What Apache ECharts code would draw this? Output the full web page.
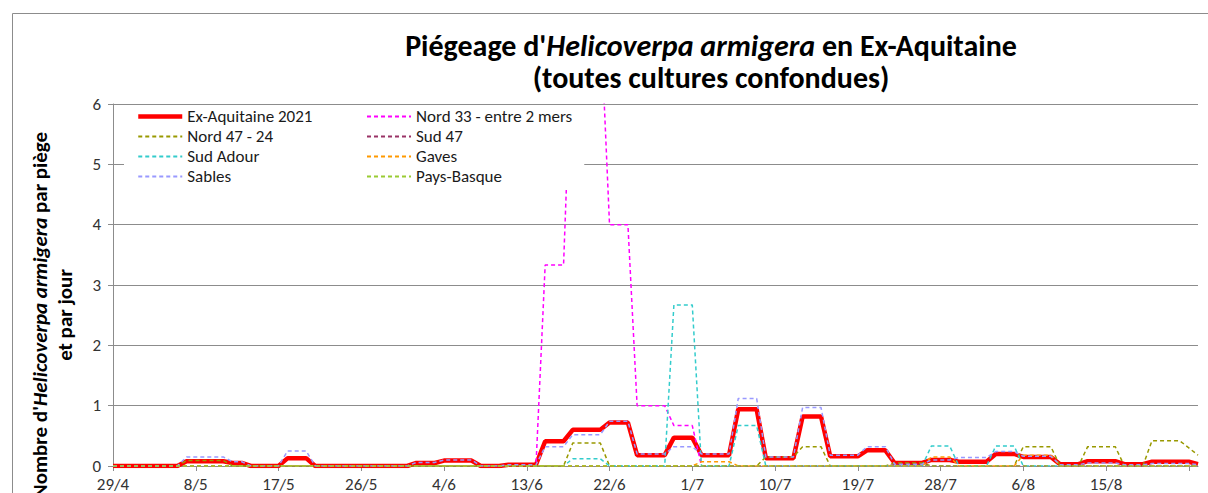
<!DOCTYPE html>
<html>
<head>
<meta charset="utf-8">
<script src="https://cdn.jsdelivr.net/npm/echarts@6/dist/echarts.min.js"></script>
<style>
  html, body { margin: 0; padding: 0; background: #fff; }
  #piegeage { width: 1208px; height: 493px; }
</style>
</head>
<body>
<div id="piegeage"></div>
<script>
// dates (one point per day, 29/4 -> 25/8)
var dates = [
    '29/4', '30/4',
    '1/5', '2/5', '3/5', '4/5', '5/5', '6/5', '7/5', '8/5', '9/5', '10/5', '11/5', '12/5', '13/5', '14/5', '15/5', '16/5',
    '17/5', '18/5', '19/5', '20/5', '21/5', '22/5', '23/5', '24/5', '25/5', '26/5', '27/5', '28/5', '29/5', '30/5', '31/5',
    '1/6', '2/6', '3/6', '4/6', '5/6', '6/6', '7/6', '8/6', '9/6', '10/6', '11/6', '12/6', '13/6', '14/6', '15/6', '16/6',
    '17/6', '18/6', '19/6', '20/6', '21/6', '22/6', '23/6', '24/6', '25/6', '26/6', '27/6', '28/6', '29/6', '30/6',
    '1/7', '2/7', '3/7', '4/7', '5/7', '6/7', '7/7', '8/7', '9/7', '10/7', '11/7', '12/7', '13/7', '14/7', '15/7', '16/7',
    '17/7', '18/7', '19/7', '20/7', '21/7', '22/7', '23/7', '24/7', '25/7', '26/7', '27/7', '28/7', '29/7', '30/7', '31/7',
    '1/8', '2/8', '3/8', '4/8', '5/8', '6/8', '7/8', '8/8', '9/8', '10/8', '11/8', '12/8', '13/8', '14/8', '15/8', '16/8',
    '17/8', '18/8', '19/8', '20/8', '21/8', '22/8', '23/8', '24/8', '25/8'
];

var exAquitaine = [
    0, 0, 0, 0, 0, 0, 0, 0,
    0.08, 0.08, 0.08, 0.08, 0.08, 0.05, 0.05, 0, 0, 0, 0,
    0.13, 0.13, 0.13, 0, 0, 0, 0, 0, 0, 0, 0, 0, 0, 0,
    0.05, 0.05, 0.05, 0.09, 0.09, 0.09, 0.09, 0, 0, 0,
    0.02, 0.02, 0.02, 0.02, 0.41, 0.41, 0.41, 0.6, 0.6, 0.6, 0.6,
    0.72, 0.72, 0.72, 0.18, 0.18, 0.18, 0.18, 0.47, 0.47, 0.47,
    0.18, 0.18, 0.18, 0.18, 0.94, 0.94, 0.94, 0.13, 0.13, 0.13, 0.13,
    0.82, 0.82, 0.82, 0.16, 0.16, 0.16, 0.16, 0.26, 0.26, 0.26,
    0.05, 0.05, 0.05, 0.05, 0.1, 0.1, 0.1, 0.07, 0.07, 0.07, 0.07,
    0.2, 0.2, 0.2, 0.15, 0.15, 0.15, 0.15, 0.03, 0.03, 0.03,
    0.08, 0.08, 0.08, 0.08, 0.03, 0.03, 0.03, 0.07, 0.07, 0.07, 0.07,
    0.07, 0.03
];

var nord33 = [
    0, 0, 0, 0, 0, 0, 0, 0,
    0, 0, 0, 0, 0, 0, 0, 0, 0, 0, 0,
    0, 0, 0, 0, 0, 0, 0, 0, 0, 0, 0, 0, 0, 0,
    0, 0, 0, 0, 0, 0, 0, 0, 0, 0,
    0, 0, 0, 0, 3.33, 3.33, 3.33, 7.5, 7.5, 7.5, 7.5,
    4, 4, 4, 1, 1, 1, 1, 0.67, 0.67, 0.67,
    0, 0, 0, 0, 0, 0, 0, 0, 0, 0, 0,
    0, 0, 0, 0, 0, 0, 0, 0, 0, 0,
    0, 0, 0, 0, 0, 0, 0, 0, 0, 0, 0,
    0, 0, 0, 0, 0, 0, 0, 0, 0, 0,
    0, 0, 0, 0, 0, 0, 0, 0, 0, 0, 0,
    0, 0
];

var nord4724 = [
    0, 0, 0, 0, 0, 0, 0, 0,
    0.09, 0.09, 0.09, 0.09, 0.09, 0, 0, 0, 0, 0, 0,
    0, 0, 0, 0, 0, 0, 0, 0, 0, 0, 0, 0, 0, 0,
    0, 0, 0, 0, 0, 0, 0, 0, 0, 0,
    0, 0, 0, 0, 0, 0, 0, 0.38, 0.38, 0.38, 0.38,
    0, 0, 0, 0, 0, 0, 0, 0, 0, 0,
    0, 0, 0, 0, 0, 0, 0, 0.15, 0.15, 0.15, 0.15,
    0.32, 0.32, 0.32, 0, 0, 0, 0, 0, 0, 0,
    0.05, 0.05, 0.05, 0.05, 0, 0, 0, 0, 0, 0, 0,
    0, 0, 0, 0.32, 0.32, 0.32, 0.32, 0, 0, 0,
    0.32, 0.32, 0.32, 0.32, 0, 0, 0, 0.42, 0.42, 0.42, 0.42,
    0.3, 0.18
];

var sud47 = [
    0, 0, 0, 0, 0, 0, 0, 0,
    0, 0, 0, 0, 0, 0, 0, 0, 0, 0, 0,
    0, 0, 0, 0, 0, 0, 0, 0, 0, 0, 0, 0, 0, 0,
    0, 0, 0, 0, 0, 0, 0, 0, 0, 0,
    0, 0, 0, 0, 0, 0, 0, 0, 0, 0, 0,
    0, 0, 0, 0, 0, 0, 0, 0, 0, 0,
    0, 0, 0, 0, 0, 0, 0, 0, 0, 0, 0,
    0, 0, 0, 0, 0, 0, 0, 0, 0, 0,
    0.02, 0.02, 0.02, 0.02, 0, 0, 0, 0, 0, 0, 0,
    0, 0, 0, 0, 0, 0, 0, 0, 0, 0,
    0, 0, 0, 0, 0, 0, 0, 0, 0, 0, 0,
    0, 0
];

var sudAdour = [
    0, 0, 0, 0, 0, 0, 0, 0,
    0, 0, 0, 0, 0, 0, 0, 0, 0, 0, 0,
    0, 0, 0, 0, 0, 0, 0, 0, 0, 0, 0, 0, 0, 0,
    0, 0, 0, 0, 0, 0, 0, 0, 0, 0,
    0, 0, 0, 0, 0, 0, 0, 0.12, 0.12, 0.12, 0.12,
    0, 0, 0, 0, 0, 0, 0, 2.67, 2.67, 2.67,
    0, 0, 0, 0, 0.67, 0.67, 0.67, 0, 0, 0, 0,
    0, 0, 0, 0, 0, 0, 0, 0, 0, 0,
    0, 0, 0, 0, 0.33, 0.33, 0.33, 0, 0, 0, 0,
    0.33, 0.33, 0.33, 0, 0, 0, 0, 0, 0, 0,
    0, 0, 0, 0, 0, 0, 0, 0, 0, 0, 0,
    0, 0
];

var gaves = [
    0, 0, 0, 0, 0, 0, 0, 0,
    0, 0, 0, 0, 0, 0, 0, 0, 0, 0, 0,
    0, 0, 0, 0, 0, 0, 0, 0, 0, 0, 0, 0, 0, 0,
    0, 0, 0, 0, 0, 0, 0, 0, 0, 0,
    0, 0, 0, 0, 0, 0, 0, 0, 0, 0, 0,
    0, 0, 0, 0, 0, 0, 0, 0, 0, 0,
    0.07, 0.07, 0.07, 0.07, 0, 0, 0, 0, 0, 0, 0,
    0, 0, 0, 0, 0, 0, 0, 0, 0, 0,
    0, 0, 0, 0, 0.15, 0.15, 0.15, 0, 0, 0, 0,
    0, 0, 0, 0.18, 0.18, 0.18, 0.18, 0, 0, 0,
    0, 0, 0, 0, 0, 0, 0, 0, 0, 0, 0,
    0, 0
];

var sables = [
    0, 0, 0, 0, 0, 0, 0, 0,
    0.15, 0.15, 0.15, 0.15, 0.15, 0.07, 0.07, 0, 0, 0, 0,
    0.25, 0.25, 0.25, 0, 0, 0, 0, 0, 0, 0, 0, 0, 0, 0,
    0.06, 0.06, 0.06, 0.1, 0.1, 0.1, 0.1, 0, 0, 0,
    0.02, 0.02, 0.02, 0.02, 0.32, 0.32, 0.32, 0.52, 0.52, 0.52, 0.52,
    0.74, 0.74, 0.74, 0.2, 0.2, 0.2, 0.2, 0.32, 0.32, 0.32,
    0.2, 0.2, 0.2, 0.2, 1.12, 1.12, 1.12, 0.15, 0.15, 0.15, 0.15,
    0.97, 0.97, 0.97, 0.18, 0.18, 0.18, 0.18, 0.32, 0.32, 0.32,
    0.03, 0.03, 0.03, 0.03, 0.1, 0.1, 0.1, 0.14, 0.14, 0.14, 0.14,
    0.24, 0.24, 0.24, 0.16, 0.16, 0.16, 0.16, 0.02, 0.02, 0.02,
    0.05, 0.05, 0.05, 0.05, 0.02, 0.02, 0.02, 0.04, 0.04, 0.04, 0.04,
    0.04, 0.02
];

var paysBasque = [
    0, 0, 0, 0, 0, 0, 0, 0,
    0, 0, 0, 0, 0, 0, 0, 0, 0, 0, 0,
    0, 0, 0, 0, 0, 0, 0, 0, 0, 0, 0, 0, 0, 0,
    0, 0, 0, 0, 0, 0, 0, 0, 0, 0,
    0, 0, 0, 0, 0, 0, 0, 0, 0, 0, 0,
    0, 0, 0, 0, 0, 0, 0, 0, 0, 0,
    0, 0, 0, 0, 0, 0, 0, 0, 0, 0, 0,
    0, 0, 0, 0, 0, 0, 0, 0, 0, 0,
    0, 0, 0, 0, 0, 0, 0, 0, 0, 0, 0,
    0, 0, 0, 0, 0, 0, 0, 0, 0, 0,
    0, 0, 0, 0, 0, 0, 0, 0, 0, 0, 0,
    0, 0
];

var yTicks = [0, 1, 2, 3, 4, 5, 6];

var police = 'Carlito, "Liberation Sans", Arial, sans-serif';
var gris = '#8c8c8c';

function serieTirets(nom, couleur, donnees) {
    return {
        name: nom,
        type: 'line',
        data: donnees,
        symbol: 'none',
        lineStyle: { color: couleur, width: 1.5, type: [4, 3] },
        itemStyle: { color: couleur },
        animation: false
    };
}

var piegeage_chart = echarts.init(document.getElementById('piegeage'), null, { renderer: 'svg' });

var legendeCommune = {
    orient: 'vertical',
    top: 105,
    itemWidth: 44,
    itemHeight: 14,
    itemGap: 3,
    backgroundColor: '#fff',
    itemStyle: { opacity: 0 },
    textStyle: { fontFamily: police, fontSize: 17, color: '#1a1a1a' }
};

var piegeage_option = {
    backgroundColor: '#fff',
    textStyle: { fontFamily: police },
    title: {
        text: '{n|Piégeage d\'}{it|Helicoverpa armigera}{n| en Ex-Aquitaine}\n{n|(toutes cultures confondues)}',
        left: 706,
        top: 24,
        textAlign: 'center',
        textStyle: {
            fontFamily: police,
            fontSize: 30,
            fontWeight: 'bold',
            color: '#000',
            lineHeight: 32,
            rich: {
                n: { fontFamily: police, fontSize: 30, fontWeight: 'bold', color: '#000', lineHeight: 32 },
                it: { fontFamily: police, fontSize: 30, fontWeight: 'bold', fontStyle: 'italic', color: '#000', lineHeight: 32 }
            }
        }
    },
    legend: [
        Object.assign({}, legendeCommune, {
            left: 124,
            padding: [3, 45, 5, 12],
            data: [
                { name: 'Ex-Aquitaine 2021', lineStyle: { width: 4.5 } },
                'Nord 47 - 24', 'Sud Adour', 'Sables'
            ]
        }),
        Object.assign({}, legendeCommune, {
            left: 354,
            padding: [3, 12, 5, 12],
            data: ['Nord 33 - entre 2 mers', 'Sud 47', 'Gaves', 'Pays-Basque']
        })
    ],
    grid: {
        left: 113,
        right: 10,
        top: 104,
        bottom: 27,
        containLabel: false,
        outerBoundsMode: 'none'
    },
    xAxis: {
        type: 'category',
        boundaryGap: false,
        data: dates,
        axisLine: { lineStyle: { color: gris } },
        axisTick: { interval: 8, length: 5, lineStyle: { color: gris } },
        axisLabel: {
            interval: function (i) { return i % 9 === 0 && i < 117; },
            fontSize: 17, color: '#333', margin: 10, fontFamily: police
        },
        splitLine: { show: false }
    },
    yAxis: {
        type: 'value',
        min: yTicks[0],
        max: yTicks[yTicks.length - 1],
        interval: 1,
        name: 'Nombre d\'{i|Helicoverpa armigera} par piège\net par jour',
        nameLocation: 'middle',
        nameGap: 36,
        nameTextStyle: {
            fontFamily: police,
            fontSize: 21,
            fontWeight: 'bold',
            color: '#000',
            lineHeight: 25,
            padding: [0, 60, 0, 0],
            rich: {
                i: { fontFamily: police, fontSize: 21, fontWeight: 'bold', fontStyle: 'italic', color: '#000', lineHeight: 25 }
            }
        },
        axisLine: { show: true, lineStyle: { color: gris } },
        axisTick: { show: true, length: 5, lineStyle: { color: gris } },
        axisLabel: { fontSize: 17, color: '#333', margin: 12, fontFamily: police },
        splitLine: { lineStyle: { color: gris, width: 1 } }
    },
    graphic: [
        {
            type: 'rect',
            shape: { x: 12.5, y: 13.5, width: 1220, height: 500 },
            style: { fill: 'none', stroke: gris, lineWidth: 1 },
            silent: true,
            z: -1
        }
    ],
    series: [
        {
            name: 'Ex-Aquitaine 2021',
            type: 'line',
            data: exAquitaine,
            symbol: 'none',
            lineStyle: { color: '#ff0000', width: 4.5 },
            itemStyle: { color: '#ff0000' },
            animation: false
        },
        serieTirets('Nord 33 - entre 2 mers', '#ff00ff', nord33),
        serieTirets('Nord 47 - 24', '#999900', nord4724),
        serieTirets('Sud 47', '#993366', sud47),
        serieTirets('Sud Adour', '#33cccc', sudAdour),
        serieTirets('Gaves', '#ff9900', gaves),
        serieTirets('Sables', '#9999ff', sables),
        serieTirets('Pays-Basque', '#99cc33', paysBasque)
    ]
};

piegeage_chart.setOption(piegeage_option);
</script>
</body>
</html>
